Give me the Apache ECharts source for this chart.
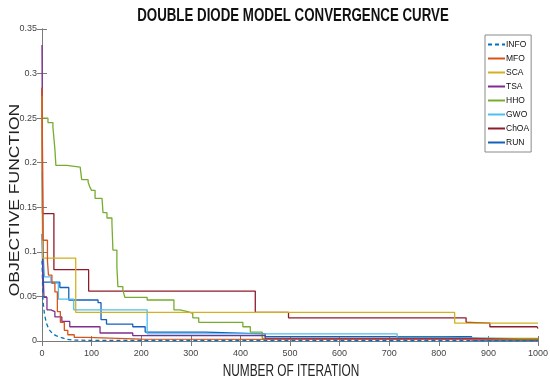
<!DOCTYPE html>
<html>
<head>
<meta charset="utf-8">
<script src="https://cdn.jsdelivr.net/npm/echarts@6/dist/echarts.min.js"></script>
<style>html,body{margin:0;padding:0;background:#fff}#c{width:550px;height:384px}</style>
</head>
<body>
<div id="c"></div>
<script>
const titleText = 'DOUBLE DIODE MODEL CONVERGENCE CURVE';
const xName = 'NUMBER OF ITERATION';
const yName = 'OBJECTIVE FUNCTION';
const xTicks = [0, 100, 200, 300, 400, 500, 600, 700, 800, 900, 1000];
const yTicks = [0, 0.05, 0.1, 0.15, 0.2, 0.25, 0.3, 0.35];
const seriesNames = ['INFO', 'MFO', 'SCA', 'TSA', 'HHO', 'GWO', 'ChOA', 'RUN'];
const seriesColors = ['#0072BD', '#D95319', '#D4B020', '#7E2F8E', '#77AC30', '#4DBEEE', '#8E1A2A', '#1560BD'];

const infoIter = [0, 2, 5, 9, 14, 20, 28, 38, 50, 65, 100, 1000];
const infoVal  = [0.09, 0.045, 0.03, 0.02, 0.013, 0.009, 0.006, 0.004, 0.002, 0.001, 0.0007, 0.0005];

const mfoIter = [0, 1, 2, 11, 13, 20, 26, 31, 37, 45, 52, 65, 90, 200, 1000];
const mfoVal  = [0.284, 0.2, 0.113, 0.09, 0.074, 0.065, 0.055, 0.033, 0.021, 0.012, 0.007, 0.004, 0.002, 0.0015, 0.0012];

const scaIter = [0, 1, 68, 832, 1000];
const scaVal  = [0.275, 0.093, 0.032, 0.020, 0.020];

const tsaIter = [0, 1, 2, 4, 10, 18, 26, 40, 56, 117, 183, 450, 866, 1000];
const tsaVal  = [0.332, 0.2, 0.08, 0.049, 0.035, 0.033, 0.027, 0.022, 0.016, 0.009, 0.006, 0.003, 0.001, 0.001];

const hhoIter = [0, 12, 22, 26, 28, 50, 77, 80, 93, 97, 100, 107, 121, 123, 131, 141, 143, 151, 153, 163, 167, 212, 266, 278, 294, 304, 316, 405, 420, 444, 1000];
const hhoVal  = [0.25, 0.245, 0.240, 0.215, 0.197, 0.195, 0.193, 0.181, 0.178, 0.172, 0.169, 0.160, 0.158, 0.144, 0.138, 0.132, 0.102, 0.083, 0.061, 0.057, 0.049, 0.046, 0.035, 0.033, 0.031, 0.026, 0.021, 0.016, 0.010, 0.003, 0.003];

const gwoIter = [0, 2, 5, 18, 33, 64, 212, 716, 816, 1000];
const gwoVal  = [0.19, 0.1, 0.072, 0.065, 0.047, 0.035, 0.008, 0.004, 0.002, 0.002];

const choaIter = [0, 1, 24, 94, 430, 497, 855, 862, 903, 998, 1000];
const choaVal  = [0.284, 0.143, 0.080, 0.056, 0.032, 0.026, 0.021, 0.020, 0.016, 0.014, 0.014];

const runIter = [0, 2, 36, 54, 113, 119, 130, 183, 208, 330, 450, 866, 1000];
const runVal  = [0.12, 0.066, 0.060, 0.046, 0.043, 0.024, 0.019, 0.016, 0.010, 0.008, 0.005, 0.001, 0.001];

const iters = [infoIter, mfoIter, scaIter, tsaIter, hhoIter, gwoIter, choaIter, runIter];
const vals = [infoVal, mfoVal, scaVal, tsaVal, hhoVal, gwoVal, choaVal, runVal];

const FONT = "'Liberation Sans', Arial, sans-serif";
const axisGray = '#7a7a7a';

const series = seriesNames.map((name, i) => ({
  name: name,
  type: 'line',
  step: i === 0 ? false : 'end',
  symbol: 'none',
  showSymbol: false,
  data: iters[i].map((x, k) => [x, vals[i][k]]),
  lineStyle: { color: seriesColors[i], width: 1.3, type: i === 0 ? [4, 3] : 'solid' },
  itemStyle: { color: seriesColors[i] },
  z: 10 - i
}));

const chart = echarts.init(document.getElementById('c'), null, { renderer: 'canvas' });
const baseX = {
  type: 'value', min: 0, max: 1000, interval: 100,
  axisLine: { show: true, lineStyle: { color: axisGray, width: 1 } },
  axisTick: { show: true, inside: true, length: 5, lineStyle: { color: axisGray } },
  splitLine: { show: false }
};
const baseY = {
  type: 'value', min: 0, max: 0.35, interval: 0.05,
  axisLine: { show: true, lineStyle: { color: axisGray, width: 1 } },
  axisTick: { show: true, inside: true, length: 5, lineStyle: { color: axisGray } },
  splitLine: { show: false }
};
chart.setOption({
  animation: false,
  backgroundColor: '#fff',
  graphic: [
    { type: 'text', x: 293, y: 16, scaleX: 0.7, z: 100,
      style: { text: titleText, font: "bold 19px 'Liberation Sans', Arial, sans-serif", fill: '#111', align: 'center', verticalAlign: 'middle' } },
    { type: 'text', x: 291, y: 372, scaleX: 0.74, z: 100,
      style: { text: xName, font: "16px 'Liberation Sans', Arial, sans-serif", fill: '#222', align: 'center', verticalAlign: 'middle' } },
    { type: 'text', x: 15, y: 200, rotation: Math.PI / 2, scaleY: 0.85, z: 100,
      style: { text: yName, font: "17.5px 'Liberation Sans', Arial, sans-serif", fill: '#222', align: 'center', verticalAlign: 'middle' } }
  ],
  grid: { left: 42, right: 12, top: 29, bottom: 43, outerBoundsMode: 'none', containLabel: false },
  legend: {
    orient: 'vertical', left: 485, top: 35,
    data: seriesNames,
    backgroundColor: '#fff', borderColor: '#8a8a8a', borderWidth: 1,
    padding: [5, 2, 5, 2], itemGap: 5, itemWidth: 17, itemHeight: 9,
    itemStyle: { opacity: 0 },
    textStyle: { fontFamily: FONT, fontSize: 8.5, color: '#111', padding: [0, 0, 0, -4] }
  },
  xAxis: [
    Object.assign({}, baseX, {
      position: 'bottom',
      axisLabel: { fontFamily: FONT, fontSize: 9, color: '#444', margin: 8,
        formatter: v => xTicks.indexOf(v) >= 0 ? String(v) : '' }
    }),
    Object.assign({}, baseX, { position: 'top', axisLabel: { show: false } })
  ],
  yAxis: [
    Object.assign({}, baseY, {
      position: 'left',
      axisLabel: { fontFamily: FONT, fontSize: 9, color: '#444', margin: 5,
        formatter: v => { const t = yTicks.find(y => Math.abs(y - v) < 1e-9); return t === undefined ? '' : String(t); } }
    }),
    Object.assign({}, baseY, { position: 'right', axisLabel: { show: false } })
  ],
  series: series
});
</script>
</body>
</html>
